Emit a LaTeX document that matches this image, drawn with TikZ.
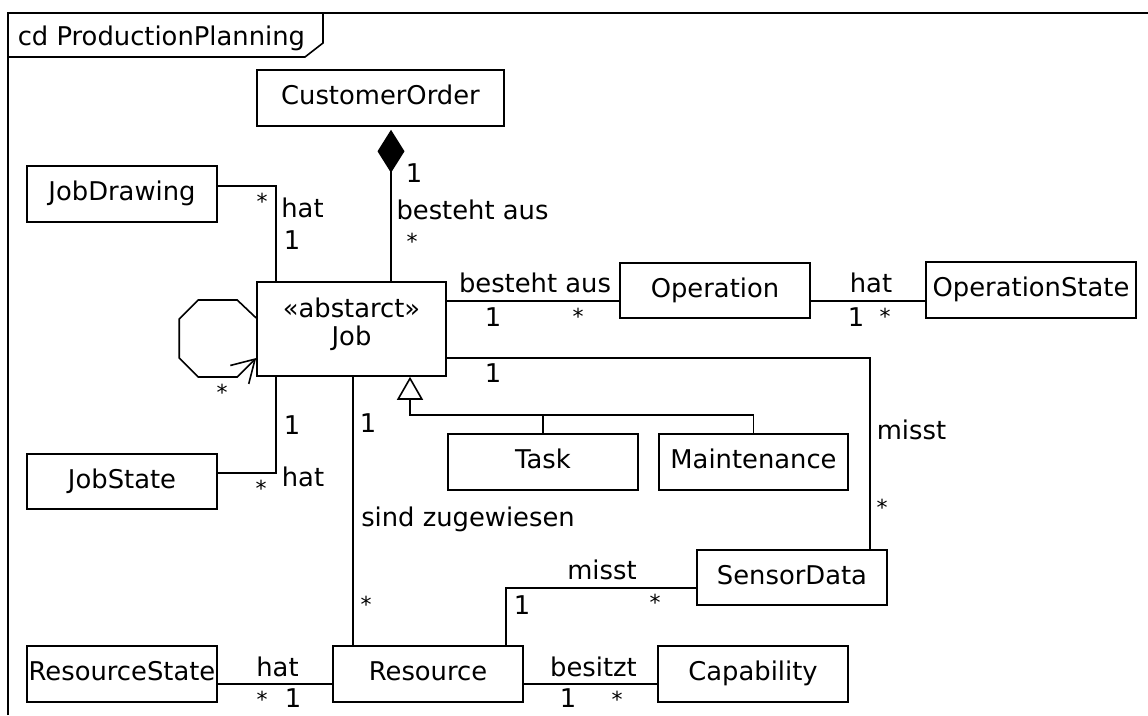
\documentclass[tikz,border=0pt]{standalone}
\usepackage{fontspec}
\setmainfont{DejaVu Sans}
\usetikzlibrary{arrows.meta}
\begin{document}
\begin{tikzpicture}[x=1pt,y=-1pt,line width=1.6pt,
  every node/.style={font=\fontsize{25.8}{30}\selectfont},
  cls/.style={draw,rectangle,inner sep=0pt,minimum width=190pt,minimum height=56pt,
              text height=19pt,text depth=5.2pt},
  lbl/.style={inner sep=0pt,text height=19pt,text depth=0pt},
  mult/.style={inner sep=0pt,text height=16.3pt,text depth=0pt,
               font=\fontsize{22}{26}\selectfont,yshift=-4.6pt}]

% page and white background
\useasboundingbox (0,0) rectangle (1148,715);
\fill[white] (0,0) rectangle (1148,715);

% diagram frame with its name tab
\draw (8,715) -- (8,13) -- (1148,13);
\draw (8,57) -- (305,57) -- (323,43) -- (323,13);
\node[lbl,anchor=west] (title) at (17,36.3) {cd ProductionPlanning};

% classes
\node[cls,minimum width=247pt] (order) at (380.5,98) {CustomerOrder};
\node[cls] (drawing) at (122,194) {JobDrawing};
\node[cls,minimum width=189pt,minimum height=94pt] (job) at (351.5,329) {};
\node[lbl] (stereo) at (351.5,307.5) {«abstarct»};
\node[lbl] (jobname) at (351.5,335.5) {Job};
\node[cls,minimum height=55pt] (oper) at (715,290.5) {Operation};
\node[cls,minimum width=210pt] (opstate) at (1031,290) {OperationState};
\node[cls,minimum height=55pt] (jobstate) at (122,481.5) {JobState};
\node[cls] (task) at (543,462) {Task};
\node[cls,minimum width=189pt] (maint) at (753.5,462) {Maintenance};
\node[cls,minimum height=55pt] (sensor) at (792,577.5) {SensorData};
\node[cls] (resstate) at (122,674) {ResourceState};
\node[cls] (resource) at (428,674) {Resource};
\node[cls] (capab) at (753,674) {Capability};

% composition CustomerOrder -- Job
\draw[{Diamond[length=43pt,width=27pt]}-] ([xshift=10.5pt,yshift=-3pt]order.south)
  -- ([xshift=10.5pt]order.south |- job.north);
\node[lbl] (m1) at (414,173) {1};
\node[lbl] (a1) at (472.5,210) {besteht aus};
\node[mult] (m2) at (412,237) {*};

% JobDrawing -- Job
\draw ([yshift=8pt]drawing.east) -| ([xshift=-75.5pt]job.north);
\node[mult] (m3) at (262,197) {*};
\node[lbl] (a2) at (302.5,208) {hat};
\node[lbl] (m4) at (292,240) {1};

% JobState -- Job
\draw ([yshift=8.5pt]jobstate.east) -| ([xshift=-75.5pt]job.south);
\node[lbl] (m5) at (292,425) {1};
\node[lbl] (a3) at (303,477) {hat};
\node[mult] (m6) at (261,484) {*};

% reflexive association on Job
\draw[-{Straight Barb[length=22pt,width=26pt]}] ([yshift=11pt]job.west)
  -- ++(-19,-18) -- ++(-39,0) -- ++(-19,19) -- ++(0,39) -- ++(19,19) -- ++(39,0)
  -- ([yshift=-29pt]job.west);
\node[mult] (m7) at (222,388) {*};

% Job -- Operation
\draw ([yshift=-10.5pt]oper.west) -- ([yshift=-10.5pt]oper.west -| job.east);
\node[lbl] (a4) at (535,283) {besteht aus};
\node[lbl] (m8) at (493,317) {1};
\node[mult] (m9) at (578,312) {*};

% Operation -- OperationState
\draw ([yshift=-10.5pt]oper.east) -- ([yshift=-10.5pt]oper.east -| opstate.west);
\node[lbl] (a5) at (871,283) {hat};
\node[lbl] (m10) at (856,317) {1};
\node[mult] (m11) at (885,312) {*};

% Job -- SensorData
\draw ([yshift=-29pt]job.east) -| ([xshift=78pt]sensor.north);
\node[lbl] (m12) at (493,373) {1};
\node[lbl] (a6) at (911.5,430) {misst};
\node[mult] (m13) at (882,503) {*};

% Job -- Resource
\draw ([xshift=-75pt]resource.north) -- ([xshift=-75pt]resource.north |- job.south);
\node[lbl] (m14) at (368,423) {1};
\node[lbl] (a7) at (468,516.5) {sind zugewiesen};
\node[mult] (m15) at (366,600) {*};

% generalization Task, Maintenance -> Job
\coordinate (genbus) at (410,415);
\draw[-{Triangle[open,length=23pt,width=26pt]}] (maint.north) |- (genbus) -- (genbus |- job.south);
\draw (task.north) -- (task.north |- genbus);

% Resource -- SensorData
\draw ([xshift=78pt]resource.north) |- ([yshift=-10.5pt]sensor.west);
\node[lbl] (a8) at (602,570) {misst};
\node[lbl] (m16) at (522,605) {1};
\node[mult] (m17) at (655,598) {*};

% ResourceState -- Resource
\draw ([yshift=-10pt]resstate.east) -- ([yshift=-10pt]resstate.east -| resource.west);
\node[lbl] (a9) at (277.5,667) {hat};
\node[mult] (m18) at (262,695) {*};
\node[lbl] (m19) at (293,698) {1};

% Resource -- Capability
\draw ([yshift=-10pt]resource.east) -- ([yshift=-10pt]resource.east -| capab.west);
\node[lbl] (a10) at (593.5,667) {besitzt};
\node[lbl] (m20) at (568,698) {1};
\node[mult] (m21) at (617,695) {*};
\end{tikzpicture}
\end{document}
